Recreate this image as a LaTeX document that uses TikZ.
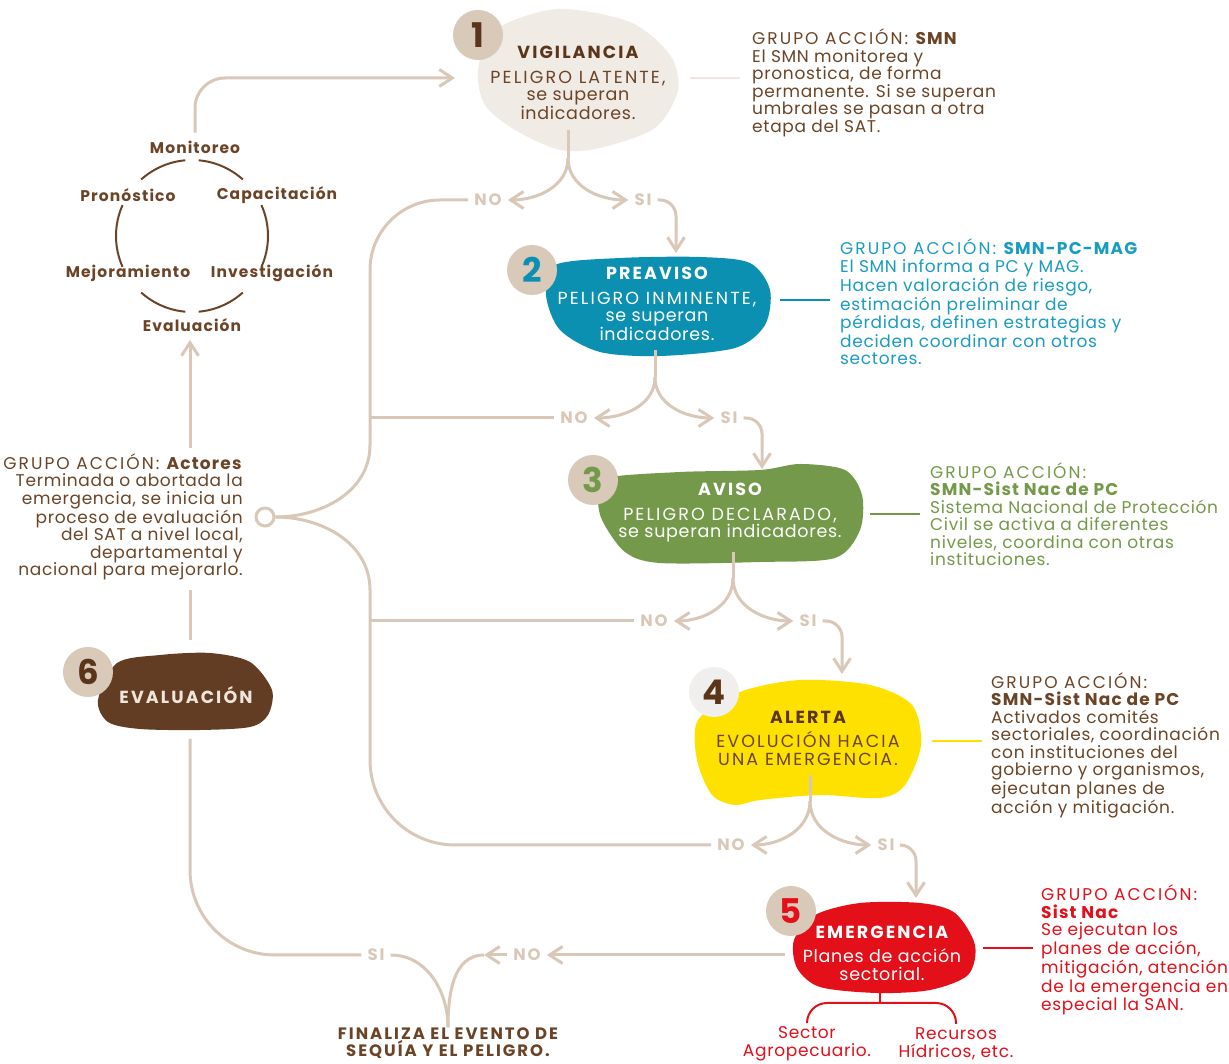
\documentclass[tikz,border=0pt]{standalone}
\usepackage{fontspec}
\setmainfont{Poppins}[LetterSpace=4,BoldFeatures={LetterSpace=7}]
\newfontfamily\spaced[LetterSpace=12]{Poppins}
\newfontfamily\caps[LetterSpace=12]{Poppins}
\usepackage{tikz}
\usetikzlibrary{arrows.meta}
\definecolor{linea}{HTML}{D9C8B8}
\definecolor{lineaclara}{HTML}{EEE7E0}
\definecolor{cafe}{HTML}{6B4427}
\definecolor{cafeosc}{HTML}{5A3519}
\definecolor{beige}{HTML}{F1EBE5}
\definecolor{numfondo}{HTML}{D8C9B9}
\definecolor{azul}{HTML}{0B90B2}
\definecolor{azultxt}{HTML}{1A9CC0}
\definecolor{verde}{HTML}{74994A}
\definecolor{amarillo}{HTML}{FFE100}
\definecolor{rojo}{HTML}{E30F19}
\definecolor{evalfondo}{HTML}{623D24}
\definecolor{evaltxt}{HTML}{EFE5DA}
\definecolor{gris}{HTML}{F0EFED}
\newcommand{\titulo}{\spaced\bfseries}

\begin{document}
\begin{tikzpicture}[x=1pt,y=1pt]
\tikzset{>={Straight Barb[length=13pt,width=17pt]}}
\tikzstyle{flow}=[draw=linea,line width=3pt]
\tikzstyle{enlace}=[line width=2.5pt]
\tikzstyle{stage}=[align=center,inner sep=0pt,font=\fontsize{17.5}{17.5}\selectfont]
\tikzstyle{answer}=[text=linea,inner sep=6pt,font=\spaced\bfseries\fontsize{16.5}{16.5}\selectfont]
\tikzstyle{numero}=[circle,fill=numfondo,minimum size=50pt,inner sep=0pt,font=\bfseries\fontsize{34}{34}\selectfont]
\tikzstyle{grupo}=[align=left,anchor=west,inner sep=0pt,font=\fontsize{17}{17.5}\selectfont]
\tikzstyle{ciclo}=[text=cafe,inner sep=2pt,font=\bfseries\fontsize{15.5}{15.5}\selectfont]

\useasboundingbox (0,0) rectangle (1229,1063);

% manchas de cada etapa
\fill[beige] plot[smooth cycle] coordinates {(478,993) (495,1033) (557,1054) (630,1041) (670,1008) (678,973) (655,935) (600,915) (560,913) (515,933) (485,958)};
\fill[azul] plot[smooth cycle] coordinates {(555,798) (620,805) (700,806) (750,800) (770,773) (765,738) (735,715) (660,707) (600,711) (560,733) (546,768)};
\fill[verde] plot[smooth cycle] coordinates {(605,585) (680,591) (760,593) (800,599) (845,593) (862,568) (860,533) (835,505) (760,501) (660,500) (625,511) (602,543) (598,568)};
\fill[amarillo] plot[smooth cycle] coordinates {(740,371) (800,383) (870,378) (912,358) (921,318) (905,278) (880,265) (820,268) (760,263) (735,258) (712,268) (697,303) (698,343)};
\fill[rojo] plot[smooth cycle] coordinates {(815,148) (860,160) (920,160) (955,150) (975,118) (968,88) (930,73) (877,70) (820,76) (797,95) (794,123)};
\fill[evalfondo] plot[smooth cycle] coordinates {(117,400) (160,408) (210,410) (250,401) (272,373) (268,348) (250,336) (200,333) (140,334) (108,341) (98,363)};

% etapas
\node[stage,text=cafe] (st1) at (578,980) {{\titulo\color{cafeosc} VIGILANCIA}\\[7pt] {\caps PELIGRO LATENTE,}\\ se superan\\ indicadores.};
\node[stage,text=white] (st2) at (657,759) {{\titulo PREAVISO}\\[7pt] {\caps PELIGRO INMINENTE,}\\ se superan\\ indicadores.};
\node[stage,text=white] (st3) at (730,550) {{\titulo AVISO}\\[7pt] {\caps PELIGRO DECLARADO,}\\ se superan indicadores.};
\node[stage,text=cafe] (st4) at (808,325) {{\titulo\color{cafeosc} ALERTA}\\[7pt] {\caps EVOLUCIÓN HACIA}\\ {\caps UNA EMERGENCIA.}};
\node[stage,text=white] (st5) at (882,110) {{\titulo EMERGENCIA}\\[7pt] Planes de acción\\ sectorial.};
\node[stage,text=evaltxt] (st6) at (186,368) {\titulo EVALUACIÓN};

\node[numero,text=cafeosc] (n1) at (478,1028) {1};
\node[numero,text=azul] (n2) at (532,793) {2};
\node[numero,text=verde] (n3) at (593,583) {3};
\node[numero,fill=gris,text=cafeosc] (n4) at (714,371) {4};
\node[numero,text=rojo] (n5) at (791,152) {5};
\node[numero,text=cafeosc] (n6) at (88,391) {6};

% respuestas
\node[answer] (no1) at (488,863) {NO};
\node[answer] (si1) at (643,863) {SI};
\node[answer] (no2) at (574,645) {NO};
\node[answer] (si2) at (729,645) {SI};
\node[answer] (no3) at (654,442) {NO};
\node[answer] (si3) at (808,442) {SI};
\node[answer] (no4) at (731,218) {NO};
\node[answer] (si4) at (886,218) {SI};
\node[answer] (no5) at (527,108) {NO};
\node[answer] (si5) at (376,108) {SI};

\node[text=cafe,align=center,inner sep=0pt,font=\spaced\bfseries\fontsize{16.5}{17}\selectfont] (fin) at (448,20) {FINALIZA EL EVENTO DE\\ SEQUÍA Y EL PELIGRO.};

% grupos de accion
\node[grupo,text=cafe] (g1) at (752,980) {{\caps GRUPO ACCIÓN:} \textbf{SMN}\\ El SMN monitorea y\\ pronostica, de forma\\ permanente. Si se superan\\ umbrales se pasan a otra\\ etapa del SAT.};
\node[grupo,text=azultxt] (g2) at (840,761) {{\caps GRUPO ACCIÓN:} \textbf{SMN-PC-MAG}\\ El SMN informa a PC y MAG.\\ Hacen valoración de riesgo,\\ estimación preliminar de\\ pérdidas, definen estrategias y\\ deciden coordinar con otros\\ sectores.};
\node[grupo,text=verde] (g3) at (930,549) {{\caps GRUPO ACCIÓN:}\\ \textbf{SMN-Sist Nac de PC}\\ Sistema Nacional de Protección\\ Civil se activa a diferentes\\ niveles, coordina con otras\\ instituciones.};
\node[grupo,text=cafe] (g4) at (991,318) {{\caps GRUPO ACCIÓN:}\\ \textbf{SMN-Sist Nac de PC}\\ Activados comités\\ sectoriales, coordinación\\ con instituciones del\\ gobierno y organismos,\\ ejecutan planes de\\ acción y mitigación.};
\node[grupo,text=rojo] (g5) at (1041,113) {{\caps GRUPO ACCIÓN:}\\ \textbf{Sist Nac}\\ Se ejecutan los\\ planes de acción,\\ mitigación, atención\\ de la emergencia en\\ especial la SAN.};
\node[grupo,anchor=east,align=right,text=cafe] (act) at (243,546) {{\caps GRUPO ACCIÓN:} \textbf{Actores}\\ Terminada o abortada la\\ emergencia, se inicia un\\ proceso de evaluación\\ del SAT a nivel local,\\ departamental y\\ nacional para mejorarlo.};

\draw[enlace,draw=lineaclara] ([xshift=-12pt,yshift=5pt]g1.west) -- ++(-50,0);
\draw[enlace,draw=azul] ([xshift=-10pt,yshift=2pt]g2.west) -- ++(-50,0);
\draw[enlace,draw=verde] ([xshift=-10pt]g3.west) -- ++(-50,0);
\draw[enlace,draw=amarillo] ([xshift=-9pt,yshift=4pt]g4.west) -- ++(-50,0);
\draw[enlace,draw=rojo] ([xshift=-8pt,yshift=2pt]g5.west) -- ++(-50,0);

% ciclo del SAT
\coordinate (cyc) at (192,827);
\foreach \a/\b in {95/132,48/85,156/204,-24/24,228/265,275/312}
  \draw[cafe,line width=2pt] (cyc) ++(\a:76) arc[start angle=\a,end angle=\b,radius=76];
\node[ciclo] (mon) at (195,916) {Monitoreo};
\node[ciclo] (pro) at (128,868) {Pronóstico};
\node[ciclo] (cap) at (277,868) {Capacitación};
\node[ciclo] (mej) at (128,790) {Mejoramiento};
\node[ciclo] (inv) at (272,790) {Investigación};
\node[ciclo] (eva) at (192,738) {Evaluación};

% puntos de paso
\coordinate (s1) at (568,933); \coordinate (b1) at (568,905);
\coordinate (s2) at (655,713); \coordinate (b2) at (655,686);
\coordinate (s3) at (733,511); \coordinate (b3) at (733,485);
\coordinate (s4) at (810,288); \coordinate (b4) at (810,262);
\coordinate (t2) at (676,810);
\coordinate (t3) at (762,594);
\coordinate (t4) at (842,389);
\coordinate (t5) at (916,165);
\coordinate (in1) at (455,985);
\coordinate (j1) at (370,618);
\coordinate (j2) at (370,473);
\coordinate (a1) at (190,615);
\coordinate (a2) at (190,723);
\coordinate (a3) at (190,473);
\coordinate (a4) at (190,423);
\coordinate (e6) at (190,324);
\coordinate (l5) at (785,108);
\coordinate (m5) at (484,108);

\node[circle,draw=linea,line width=3pt,fill=white,minimum size=18pt,inner sep=0pt] (ring) at (265,546) {};

% flujo
\draw[flow,->,rounded corners=30pt] ([yshift=6pt]mon.north) |- (in1);
\draw[flow] (s1) -- (b1);
\draw[flow,->] (b1) to[out=-90,in=0] (no1.east);
\draw[flow,->] (b1) to[out=-90,in=180] (si1.west);
\draw[flow,->,rounded corners=16pt] (si1.east) -| (t2);
\draw[flow] (s2) -- (b2);
\draw[flow,->] (b2) to[out=-90,in=0] (no2.east);
\draw[flow,->] (b2) to[out=-90,in=180] (si2.west);
\draw[flow,->,rounded corners=16pt] (si2.east) -| (t3);
\draw[flow] (s3) -- (b3);
\draw[flow,->] (b3) to[out=-90,in=0] (no3.east);
\draw[flow,->] (b3) to[out=-90,in=180] (si3.west);
\draw[flow,->,rounded corners=16pt] (si3.east) -| (t4);
\draw[flow] (s4) -- (b4);
\draw[flow,->] (b4) to[out=-90,in=0] (no4.east);
\draw[flow,->] (b4) to[out=-90,in=180] (si4.west);
\draw[flow,->,rounded corners=16pt] (si4.east) -| (t5);

\draw[flow,rounded corners=70pt] (no1.west) -| (j1);
\draw[flow] (no2.west) -- (no2.west -| j1);
\draw[flow] (no3.west) -- (no3.west -| j1);
\draw[flow,rounded corners=85pt] (no4.west) -| (j2);
\draw[flow] (ring.east) to[out=0,in=-90] (j1);
\draw[flow] (ring.east) to[out=0,in=90] (j2);

\draw[flow,->] (a1) -- (a2);
\draw[flow] (a3) -- (a4);
\draw[flow,rounded corners=85pt] (e6) |- (si5.west);
\draw[flow] (si5.east) to[out=0,in=90] (fin.north);
\draw[flow,->] (l5) -- (no5.east);
\draw[flow,->] (no5.west) -- (m5);
\draw[flow] (m5) to[out=180,in=90] (fin.north);

% sectores
\node[text=rojo,align=center,inner sep=0pt,font=\fontsize{17}{17.5}\selectfont] (sec) at (807,19) {Sector\\ Agropecuario.};
\node[text=rojo,align=center,inner sep=0pt,font=\fontsize{17}{17.5}\selectfont] (rec) at (956,19) {Recursos\\ Hídricos, etc.};
\coordinate (e5b) at (880,72);
\coordinate (bar) at (880,60);
\draw[rojo,line width=2pt] (e5b) -- (bar);
\draw[rojo,line width=2pt,rounded corners=20pt,shorten <=4pt,shorten >=4pt] (sec.north) |- (bar) -| (rec.north);
\end{tikzpicture}
\end{document}
